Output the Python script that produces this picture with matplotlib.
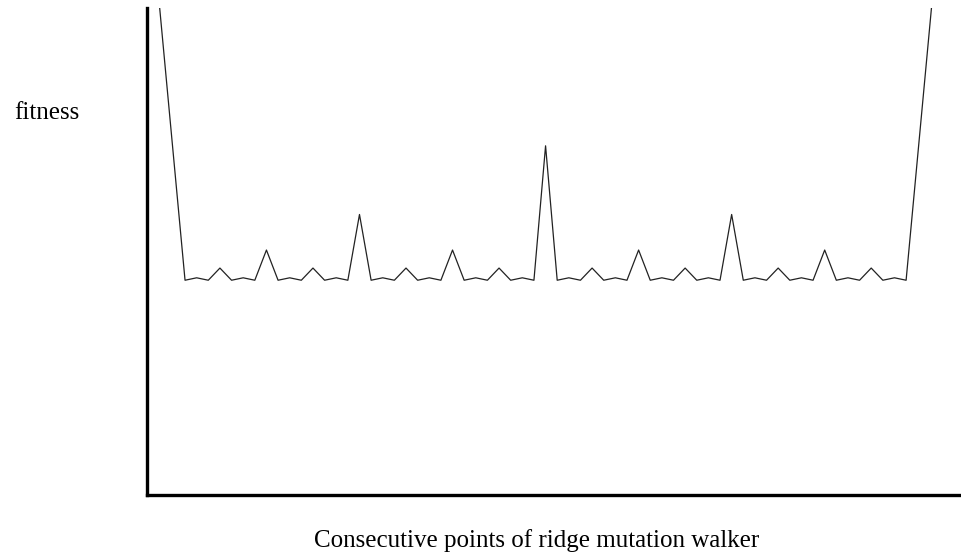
import matplotlib
matplotlib.use("Agg")
import matplotlib.pyplot as plt

# consecutive points of the walker (index), the two ends run off the top
steps = [-2.18] + list(range(0, 63)) + [64.18]

# fitness (axes bottom = 0, axes top = 1)
fitness = [
    1.0,
    0.441, 0.446, 0.441, 0.466, 0.441, 0.446, 0.441, 0.503,
    0.441, 0.446, 0.441, 0.466, 0.441, 0.446, 0.441, 0.576,
    0.441, 0.446, 0.441, 0.466, 0.441, 0.446, 0.441, 0.503,
    0.441, 0.446, 0.441, 0.466, 0.441, 0.446, 0.441, 0.717,
    0.441, 0.446, 0.441, 0.466, 0.441, 0.446, 0.441, 0.503,
    0.441, 0.446, 0.441, 0.466, 0.441, 0.446, 0.441, 0.576,
    0.441, 0.446, 0.441, 0.466, 0.441, 0.446, 0.441, 0.503,
    0.441, 0.446, 0.441, 0.466, 0.441, 0.446, 0.441,
    1.0,
]

plt.rcParams['font.family'] = ['Liberation Serif', 'DejaVu Serif']

fig = plt.figure(figsize=(9.61, 5.56), dpi=100)
ax = fig.add_axes([147 / 961, 61 / 556, 1 - 147 / 961, 487 / 556])

ax.plot(steps, fitness, color='#222222', linewidth=0.9)
ax.set_xlim(-3.27, 66.72)
ax.set_ylim(0, 1)

for side in ['top', 'right']:
    ax.spines[side].set_visible(False)
for side in ['left', 'bottom']:
    ax.spines[side].set_linewidth(2.4)
    ax.spines[side].set_color('black')
ax.set_xticks([])
ax.set_yticks([])

fig.text(47 / 961, 1 - 113 / 556, 'fitness', ha='center', va='center', fontsize=18)
fig.text(537 / 961, 1 - 541 / 556, 'Consecutive points of ridge mutation walker',
         ha='center', va='center', fontsize=18)

fig.savefig('out.png', dpi=100)
